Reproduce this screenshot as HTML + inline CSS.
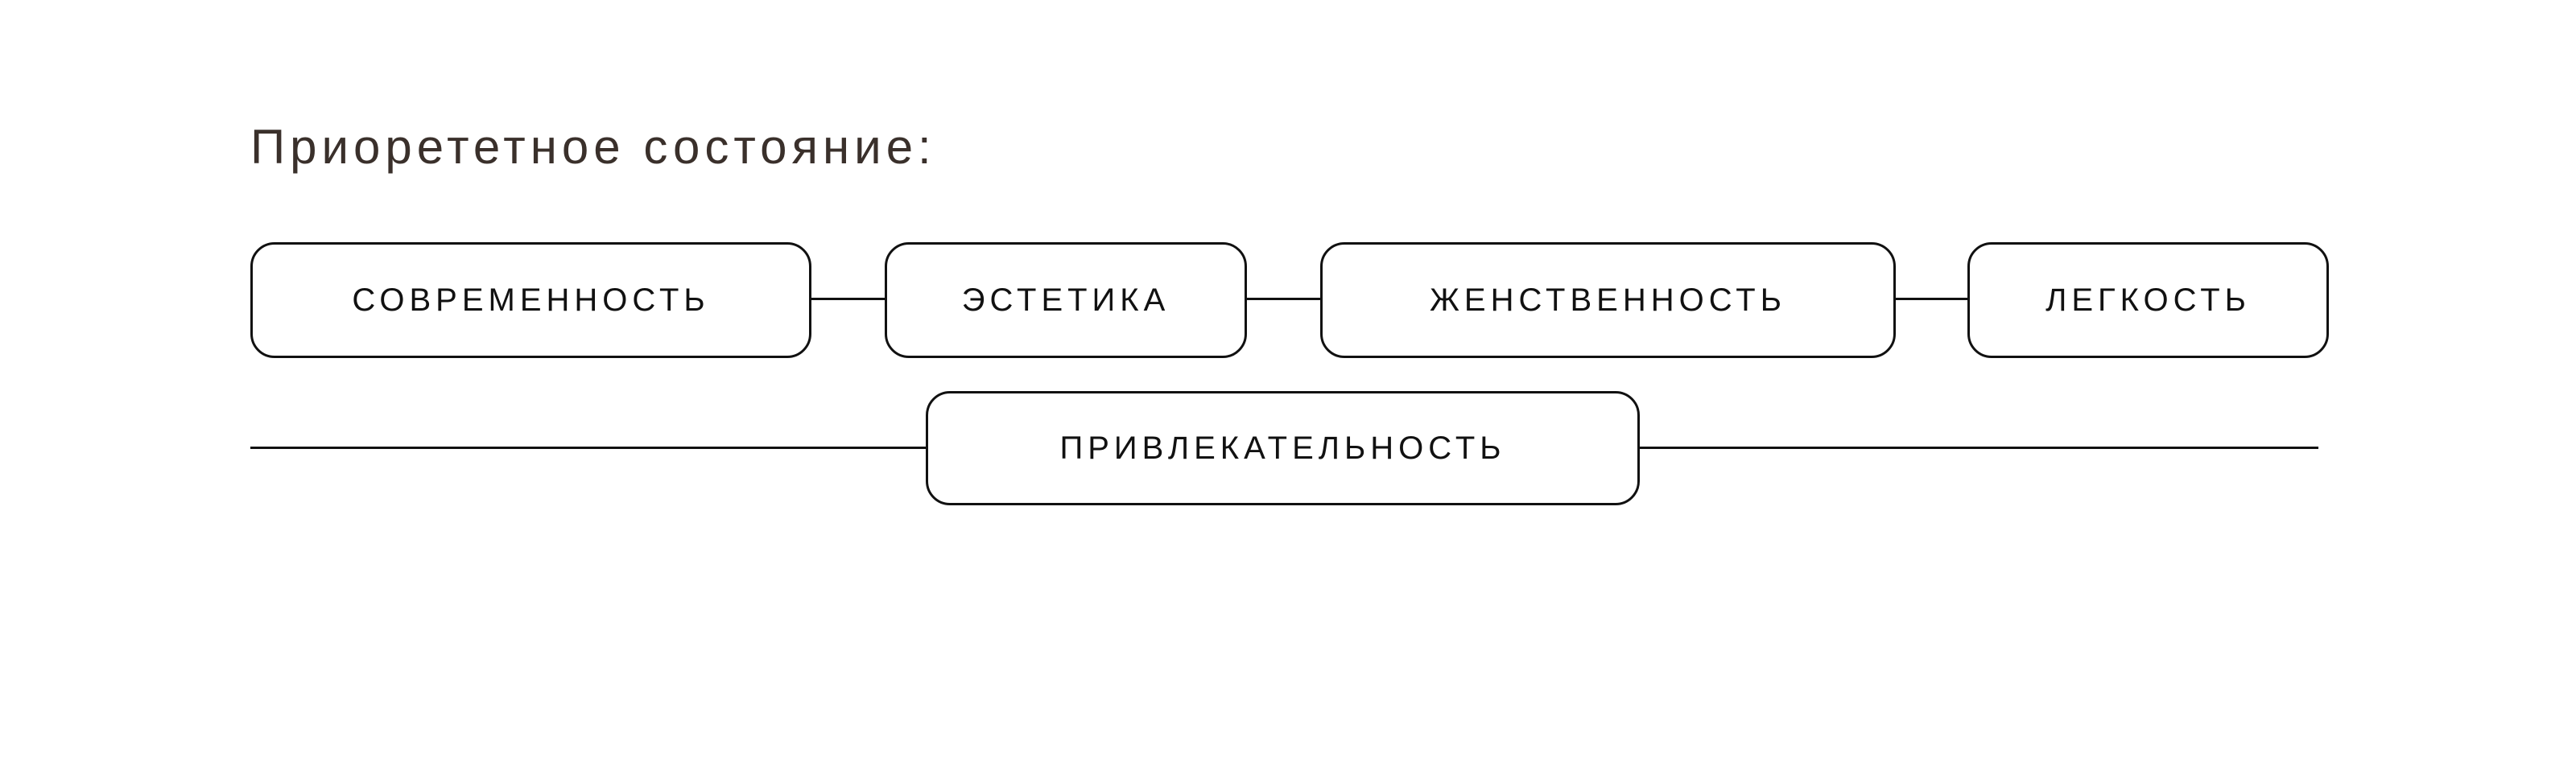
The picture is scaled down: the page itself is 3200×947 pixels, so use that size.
<!DOCTYPE html>
<html><head><meta charset="utf-8"><style>
html,body{margin:0;padding:0;background:#fff;}
body{width:3200px;height:947px;position:relative;overflow:hidden;font-family:"Liberation Sans",sans-serif;}
.t{position:absolute;left:311px;top:148px;font-size:60px;color:#3a302b;letter-spacing:6px;white-space:nowrap;font-weight:normal;}
.b{position:absolute;box-sizing:border-box;border:3px solid #111;border-radius:30px;background:#fff;display:flex;align-items:center;justify-content:center;font-size:40px;letter-spacing:6px;color:#111;}
.l{position:absolute;height:3px;background:#111;}
</style></head><body>
<div class="t">Приорететное состояние:</div>
<div class="l" style="left:1006px;top:370px;width:96px"></div>
<div class="l" style="left:1547px;top:370px;width:96px"></div>
<div class="l" style="left:2353px;top:370px;width:93px"></div>
<div class="l" style="left:311px;top:555px;width:2569px"></div>
<div class="b" style="left:311px;top:301px;width:697px;height:144px">СОВРЕМЕННОСТЬ</div>
<div class="b" style="left:1099px;top:301px;width:450px;height:144px">ЭСТЕТИКА</div>
<div class="b" style="left:1640px;top:301px;width:715px;height:144px">ЖЕНСТВЕННОСТЬ</div>
<div class="b" style="left:2444px;top:301px;width:449px;height:144px">ЛЕГКОСТЬ</div>
<div class="b" style="left:1150px;top:486px;width:887px;height:142px">ПРИВЛЕКАТЕЛЬНОСТЬ</div>
</body></html>
